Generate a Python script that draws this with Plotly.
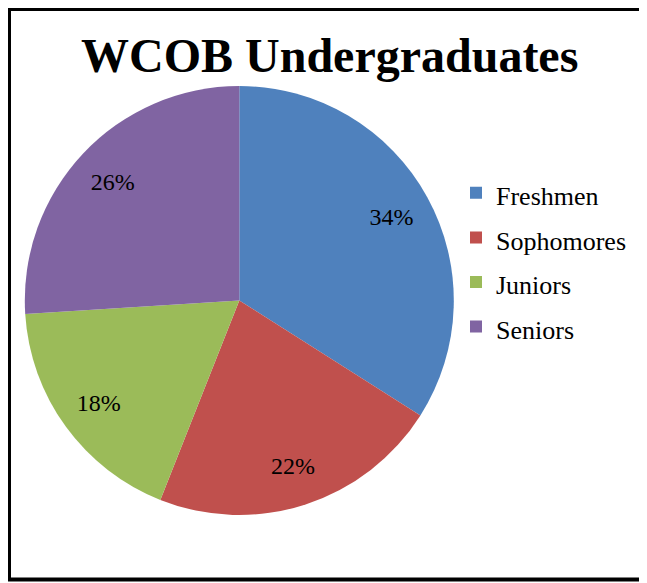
import plotly.graph_objects as go

categories = ["Freshmen", "Sophomores", "Juniors", "Seniors"]
shares = [34, 22, 18, 26]
colors = ["#4F81BD", "#C0504D", "#9BBB59", "#8064A2"]
title_text = "WCOB Undergraduates"

# page body has an 8px margin, so the figure is sized/positioned to compensate
W, H = 639, 575
serif = "Times New Roman"

legend_labels = ["<span style='font-size:26px'>" + c + "</span>" for c in categories]

dom = dict(x=[16.8 / W, 445.8 / W], y=[1 - 507 / H, 1 - 78 / H])

pie_main = go.Pie(
    labels=legend_labels,
    values=shares,
    sort=False,
    direction="clockwise",
    rotation=0,
    marker=dict(colors=colors, line=dict(width=0)),
    textinfo="none",
    domain=dom,
    hovertemplate="%{customdata}: %{percent}<extra></extra>",
    customdata=categories,
)

# transparent ring used only to carry the percentage labels further out
pie_text = go.Pie(
    labels=legend_labels,
    values=shares,
    sort=False,
    direction="clockwise",
    rotation=0,
    hole=0.62,
    marker=dict(colors=["rgba(0,0,0,0)"] * len(categories), line=dict(width=0)),
    textinfo="percent",
    textposition="inside",
    insidetextorientation="horizontal",
    textfont=dict(family=serif, size=24, color="black"),
    domain=dom,
    showlegend=False,
    hoverinfo="skip",
)

fig = go.Figure([pie_main, pie_text])

fig.update_layout(
    width=W, height=H,
    margin=dict(l=0, r=0, t=0, b=0),
    paper_bgcolor="white",
    plot_bgcolor="white",
    showlegend=True,
    legend=dict(
        x=448 / W, y=1 - 157.5 / H, xanchor="left", yanchor="top",
        font=dict(family=serif, size=32, color="black"),
        bgcolor="rgba(0,0,0,0)",
    ),
    annotations=[dict(
        text="<b>" + title_text + "</b>",
        x=321 / W, y=1 - 47 / H, xref="paper", yref="paper",
        xanchor="center", yanchor="middle", showarrow=False,
        font=dict(family=serif, size=48, color="black"),
    )],
    shapes=[
        dict(type="line", xref="paper", yref="paper", x0=0, x1=1, y0=1 - 1.5 / H, y1=1 - 1.5 / H,
             line=dict(color="black", width=3)),
        dict(type="line", xref="paper", yref="paper", x0=1.5 / W, x1=1.5 / W, y0=1, y1=1 - 573 / H,
             line=dict(color="black", width=3)),
        dict(type="line", xref="paper", yref="paper", x0=0, x1=1, y0=1 - 571.5 / H, y1=1 - 571.5 / H,
             line=dict(color="black", width=4)),
    ],
)

fig.write_html("out.html")
